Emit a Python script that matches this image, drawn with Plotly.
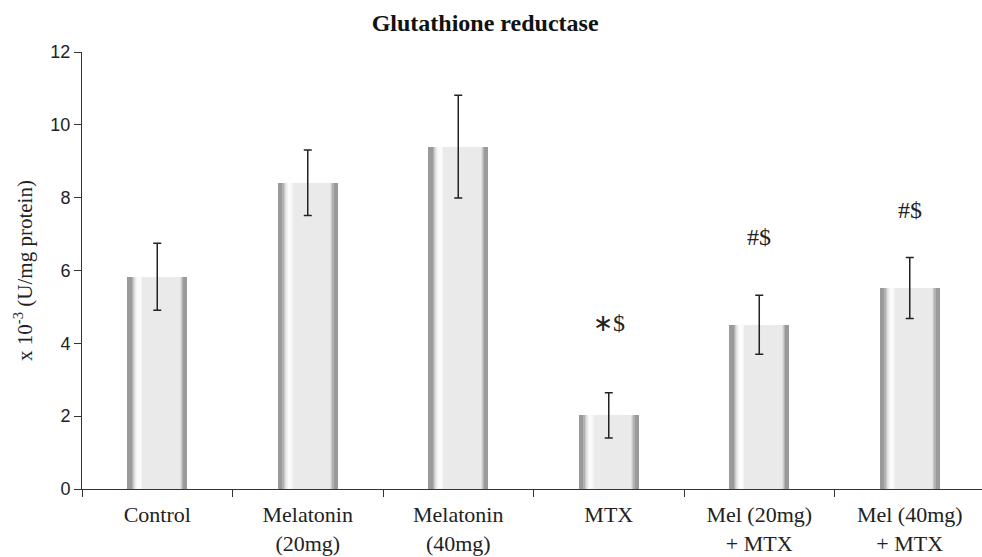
import plotly.graph_objects as go

categories = ["Control", "Melatonin<br>(20mg)", "Melatonin<br>(40mg)", "MTX",
              "Mel (20mg)<br>+ MTX", "Mel (40mg)<br>+ MTX"]
values = [5.83, 8.41, 9.4, 2.02, 4.51, 5.52]
errors = [0.92, 0.9, 1.41, 0.62, 0.81, 0.84]
marks = ["", "", "", "\u2217$", "#$", "#$"]
mark_y = [None, None, None, 4.56, 6.92, 7.66]

# bar shading strips: (left px, right px, colour) within a 60 px wide bar
BAR_W = 0.4
strips = [
    (0, 60, "#9a9a9a"),
    (4.5, 56, "#b2b2b2"),
    (6, 54.5, "#cbcbcb"),
    (7.2, 53.3, "#dedede"),
    (8.2, 52.3, "#eaeaea"),
    (9, 15, "#f4f4f4"),
    (10, 13.5, "#fbfbfb"),
]

fig = go.Figure()
for l, r, c in strips:
    fig.add_trace(go.Bar(
        x=categories, y=values,
        width=BAR_W * (r - l) / 60.0,
        offset=-BAR_W / 2 + BAR_W * l / 60.0,
        marker=dict(color=c, line=dict(width=0)),
        showlegend=False, hoverinfo="skip",
    ))

fig.add_trace(go.Scatter(
    x=categories, y=values, mode="markers",
    marker=dict(size=1, opacity=0),
    error_y=dict(type="data", array=errors, visible=True,
                 thickness=1.5, width=4, color="#222222"),
    showlegend=False, hoverinfo="skip",
))

for cat, t, yy in zip(categories, marks, mark_y):
    if t:
        fig.add_annotation(x=cat, y=yy, text=t, showarrow=False,
                           font=dict(family="Liberation Serif", size=24, color="#222222"),
                           yanchor="middle")

fig.update_layout(
    width=982, height=557,
    margin=dict(l=82, r=0, t=52, b=68),
    barmode="overlay", bargap=0,
    plot_bgcolor="white", paper_bgcolor="white",
    title=dict(text="<b>Glutathione reductase</b>", x=0.494, xanchor="center",
               y=0.96, yanchor="middle",
               font=dict(family="Liberation Serif", size=24, color="#111111")),
    xaxis=dict(range=[-0.5, 5.48], showline=True, linecolor="#333333", linewidth=1,
               ticks="outside", tickson="boundaries", ticklen=7, tickcolor="#333333",
               tickfont=dict(family="Liberation Serif", size=22, color="#222222"),
               ticklabelstandoff=6, showgrid=False, zeroline=False),
    yaxis=dict(range=[0, 12], dtick=2, showline=True, linecolor="#333333", linewidth=1,
               ticks="outside", ticklen=7, tickcolor="#333333",
               tickfont=dict(family="Liberation Sans", size=18, color="#222222"),
               showgrid=False, zeroline=False,
               title=dict(text="x 10<sup>-3</sup> (U/mg protein)", standoff=12,
                          font=dict(family="Liberation Serif", size=21, color="#222222"))),
)

fig.write_html("out.html")
